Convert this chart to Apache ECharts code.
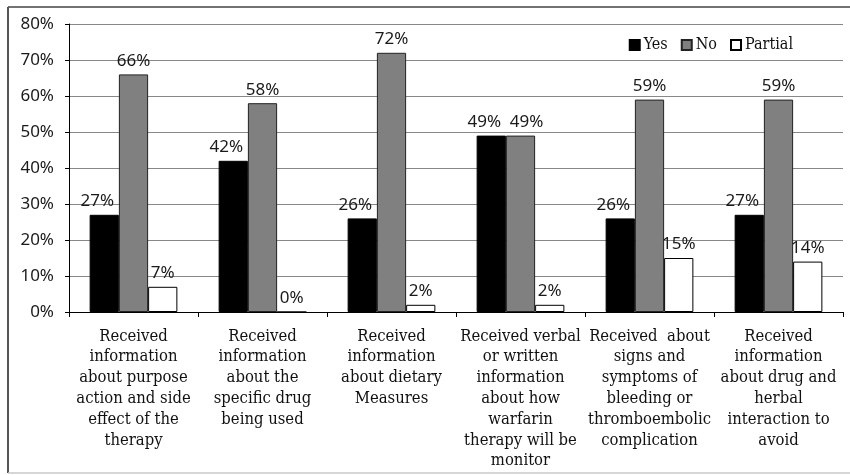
<!DOCTYPE html>
<html>
<head>
<meta charset="utf-8">
<script src="https://cdn.jsdelivr.net/npm/echarts@6/dist/echarts.min.js"></script>
<style>html,body{margin:0;padding:0;background:#fff}#c{width:850px;height:475px}</style>
</head>
<body>
<div id="c"></div>
<script>
var categories = [
  "Received\ninformation\nabout purpose\naction and side\neffect of the\ntherapy",
  "Received\ninformation\nabout the\nspecific drug\nbeing used",
  "Received\ninformation\nabout dietary\nMeasures",
  "Received verbal\nor written\ninformation\nabout how\nwarfarin\ntherapy will be\nmonitor",
  "Received  about\nsigns and\nsymptoms of\nbleeding or\nthromboembolic\ncomplication",
  "Received\ninformation\nabout drug and\nherbal\ninteraction to\navoid"
];
var yesValues = [27, 42, 26, 49, 26, 27];
var noValues = [66, 58, 72, 49, 59, 59];
var partialValues = [7, 0, 2, 2, 15, 14];

var serif = '"DejaVu Serif Condensed", "DejaVu Serif", serif';
var chart = echarts.init(document.getElementById('c'));
function labelStyle(dx) {
  return {show: true, position: 'top', distance: 5, offset: [dx, 0], formatter: '{c}%', fontFamily: 'Noto Sans', fontSize: 17, color: '#1a1a1a'};
}
// the "No" label in the 4th category is nudged right in the original to avoid the "Yes" label
var noData = noValues.map(function (v, i) {
  return i === 3 ? {value: v, label: {offset: [6, 0]}} : v;
});
chart.setOption({
  animation: false,
  grid: {left: 69, right: 7, top: 24, bottom: 163},
  graphic: [
    {type: 'line', shape: {x1: 8, y1: 7, x2: 850, y2: 7}, style: {stroke: '#444', lineWidth: 1.5}},
    {type: 'line', shape: {x1: 8, y1: 7, x2: 8, y2: 473}, style: {stroke: '#555', lineWidth: 2}},
    {type: 'line', shape: {x1: 8, y1: 473, x2: 850, y2: 473}, style: {stroke: '#c8c8c8', lineWidth: 1.5}}
  ],
  legend: {
    right: 52, top: 32, itemWidth: 10, itemHeight: 10, itemGap: 13, icon: 'rect',
    textStyle: {fontFamily: serif, fontSize: 16, color: '#111', padding: [0, 0, 0, -1]},
    data: ['Yes', 'No', 'Partial']
  },
  xAxis: {
    type: 'category', data: categories,
    axisLine: {lineStyle: {color: '#000', width: 1}},
    axisTick: {show: true, length: 5, lineStyle: {color: '#000'}},
    axisLabel: {interval: 0, margin: 14, fontFamily: serif, fontSize: 16.5, lineHeight: 20.8, color: '#111', align: 'center', verticalAlign: 'top'}
  },
  yAxis: {
    type: 'value', min: 0, max: 80, interval: 10,
    axisLine: {show: true, lineStyle: {color: '#000', width: 1}},
    axisTick: {show: true, length: 4, lineStyle: {color: '#000'}},
    splitLine: {lineStyle: {color: '#888', width: 1}},
    axisLabel: {formatter: '{value}%', margin: 15, fontFamily: 'Noto Sans', fontSize: 17, color: '#1a1a1a'}
  },
  series: [
    {name: 'Yes', type: 'bar', data: yesValues, barGap: '0%', barCategoryGap: '32%',
     itemStyle: {color: '#000', borderColor: '#000', borderWidth: 1}, label: labelStyle(-7)},
    {name: 'No', type: 'bar', data: noData,
     itemStyle: {color: '#808080', borderColor: '#222', borderWidth: 1}, label: labelStyle(0)},
    {name: 'Partial', type: 'bar', data: partialValues,
     itemStyle: {color: '#fff', borderColor: '#000', borderWidth: 1}, label: labelStyle(0)}
  ]
});
</script>
</body>
</html>
